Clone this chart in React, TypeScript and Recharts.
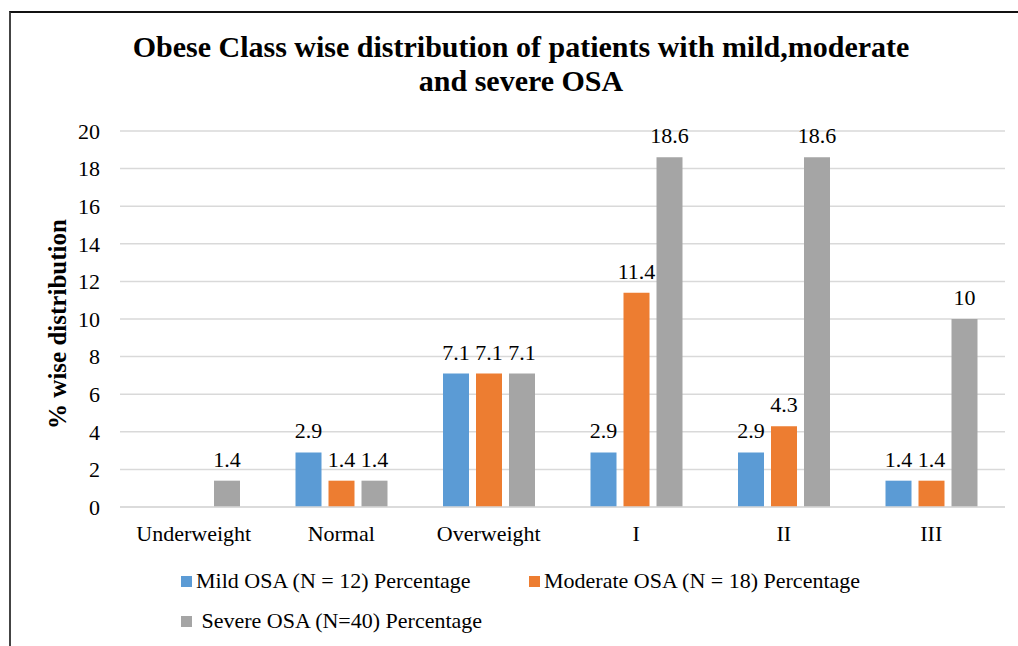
import React from 'react';
import { BarChart, Bar, XAxis, YAxis, CartesianGrid, LabelList } from 'recharts';

const categories = ['Underweight', 'Normal', 'Overweight', 'I', 'II', 'III'];
const mild = [null, 2.9, 7.1, 2.9, 2.9, 1.4];
const moderate = [null, 1.4, 7.1, 11.4, 4.3, 1.4];
const severe = [1.4, 1.4, 7.1, 18.6, 18.6, 10];
const yTicks = [0, 2, 4, 6, 8, 10, 12, 14, 16, 18, 20];

const series = [
  { key: 'mild', name: 'Mild OSA (N = 12) Percentage', color: '#5B9BD5' },
  { key: 'moderate', name: 'Moderate OSA (N = 18) Percentage', color: '#ED7D31' },
  { key: 'severe', name: ' Severe OSA (N=40) Percentage', color: '#A5A5A5' },
];

const data = categories.map((c, i) => ({
  category: c,
  mild: mild[i],
  moderate: moderate[i],
  severe: severe[i],
}));

const FONT = '"Liberation Serif", "Times New Roman", serif';

const fmt = (v: any) => (v == null ? '' : String(v));

// legend spots, roughly where the original puts them
const legendPos = [
  { left: 181, top: 566 },
  { left: 529, top: 566 },
  { left: 181, top: 606 },
];

export default function App() {
  return (
    <div style={{ position: 'absolute', left: 0, top: 0, width: 1018, height: 646, background: '#fff', fontFamily: FONT }}>
      <div style={{ position: 'absolute', left: 9, top: 11, width: 1009, height: 635, borderLeft: '2px solid #444', borderTop: '2px solid #111' }} />
      <div
        style={{
          position: 'absolute',
          left: 0,
          top: 30,
          width: 1042,
          textAlign: 'center',
          fontWeight: 'bold',
          fontSize: 30,
          lineHeight: '34px',
          color: '#000',
        }}
      >
        Obese Class wise distribution of patients with mild,moderate
        <br />
        and severe OSA
      </div>
      <div
        style={{
          position: 'absolute',
          left: 58,
          top: 324,
          transform: 'translate(-50%, -50%) rotate(-90deg)',
          whiteSpace: 'nowrap',
          fontWeight: 'bold',
          fontSize: 25,
          color: '#000',
        }}
      >
        % wise distribution
      </div>
      <div style={{ position: 'absolute', left: 0, top: 0 }}>
        <BarChart
          width={1018}
          height={646}
          data={data}
          margin={{ top: 131, right: 13, left: 0, bottom: 0 }}
          barSize={26}
          barGap={7}
        >
          <CartesianGrid vertical={false} stroke="#D9D9D9" strokeWidth={1.5} />
          <XAxis
            dataKey="category"
            height={139}
            tickLine={false}
            tickSize={0}
            tickMargin={18}
            axisLine={{ stroke: '#D9D9D9', strokeWidth: 1.5 }}
            tick={{ fontSize: 22, fill: '#000', fontFamily: FONT }}
            interval={0}
          />
          <YAxis
            width={120}
            domain={[0, 20]}
            ticks={yTicks}
            tickLine={false}
            axisLine={false}
            tickSize={0}
            tickMargin={20}
            tick={{ fontSize: 22, fill: '#000', fontFamily: FONT }}
          />
          {series.map((s) => (
            <Bar key={s.key} dataKey={s.key} name={s.name} fill={s.color} isAnimationActive={false}>
              <LabelList
                dataKey={s.key}
                position="top"
                offset={14}
                formatter={fmt}
                style={{ fontSize: 22, fill: '#000', fontFamily: FONT }}
              />
            </Bar>
          ))}
        </BarChart>
      </div>
      {series.map((s, i) => (
        <div
          key={s.key}
          style={{ position: 'absolute', left: legendPos[i].left, top: legendPos[i].top, display: 'flex', alignItems: 'center', height: 30 }}
        >
          <div style={{ width: 11, height: 11, background: s.color, marginRight: 4 }} />
          <span style={{ fontSize: 22, color: '#000', whiteSpace: 'pre' }}>{s.name}</span>
        </div>
      ))}
    </div>
  );
}
